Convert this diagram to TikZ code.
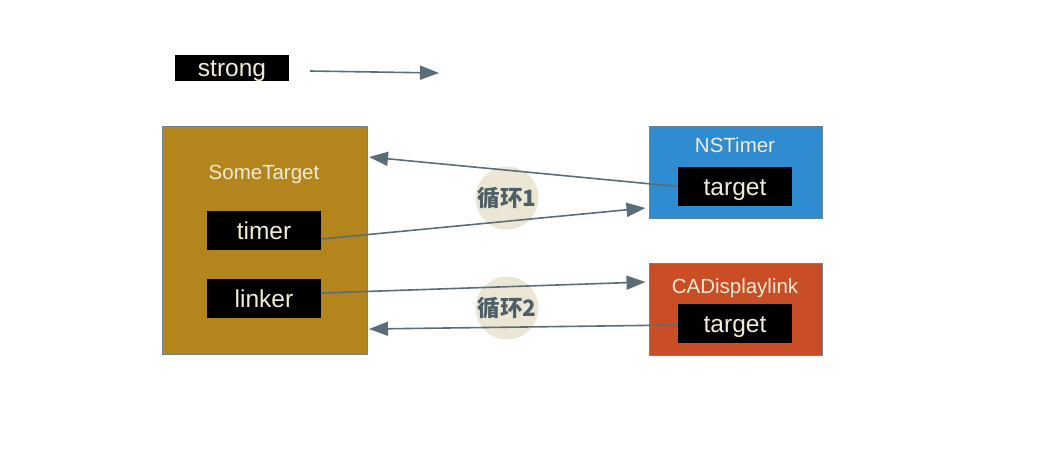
\documentclass[tikz,border=0pt]{standalone}
\usepackage{fontspec}
\setmainfont{Liberation Sans}
\newfontfamily\cjk{Noto Sans CJK SC}
\usetikzlibrary{arrows.meta}
\definecolor{gold}{HTML}{B3851C}
\definecolor{nsblue}{HTML}{2F8CD1}
\definecolor{cared}{HTML}{C94E25}
\definecolor{slate}{HTML}{5B6E78}
\definecolor{edge}{HTML}{6E8290}
\definecolor{cream}{HTML}{F2EBD6}
\definecolor{loopbg}{HTML}{ECE7D4}
\definecolor{looptxt}{HTML}{4F5F68}

\begin{document}
\begin{tikzpicture}[x=1pt,y=-1pt,
  obj/.style={draw=edge, line width=1pt, minimum width=173pt, minimum height=92pt, inner sep=0pt},
  field/.style={fill=black, text=cream, minimum width=114pt, minimum height=39pt, inner sep=0pt,
    text height=20pt, text depth=3pt, font=\fontsize{24.5}{27}\selectfont},
  title/.style={text=cream, inner sep=0pt, text height=14pt, text depth=0pt,
    font=\fontsize{20.5}{23}\selectfont},
  loop/.style={circle, fill=loopbg, minimum size=63pt, inner sep=0pt, text=looptxt,
    font=\cjk\bfseries\fontsize{22.5}{24}\selectfont},
  ref/.style={draw=slate, line width=1.6pt, -{Triangle[length=19pt,width=14pt]}}]
\useasboundingbox (0,0) rectangle (1056,466);

% legend
\node[field, minimum height=26pt] (strong) at (232,68) {strong};
\coordinate (legA) at (310,71);
\coordinate (legB) at (439,73);
\draw[ref] (legA) -- (legB);

% objects
\node[obj, fill=gold, minimum width=205pt, minimum height=228pt] (some) at (264.5,240) {};
\node[title] (someTitle) at (264,172) {SomeTarget};
\node[field] (timer) at (264,230.5) {timer};
\node[field] (linker) at (264,298.5) {linker};

\node[obj, fill=nsblue] (nstimer) at (735.5,172) {};
\node[title] (nsTitle) at (735,145) {NSTimer};
\node[field] (nsTarget) at (735,186.5) {target};

\node[obj, fill=cared] (cadlink) at (735.5,309) {};
\node[title] (caTitle) at (735,286) {CADisplaylink};
\node[field] (caTarget) at (735,323.5) {target};

% cycles
\node[loop] (loopA) at (507,198) {循环1};
\node[loop] (loopB) at (507,308) {循环2};

\coordinate (someIn1) at (369,157);
\coordinate (someIn2) at (369,329);
\draw[ref] (nsTarget.west) -- (someIn1);
\draw[ref] ([yshift=-8.5pt]timer.east) -- ([xshift=-3pt,yshift=-36pt]nstimer.west);
\draw[ref] ([yshift=5.5pt]linker.east) -- ([xshift=-3pt,yshift=27pt]cadlink.west);
\draw[ref] ([yshift=-1.5pt]caTarget.west) -- (someIn2);
\end{tikzpicture}
\end{document}
